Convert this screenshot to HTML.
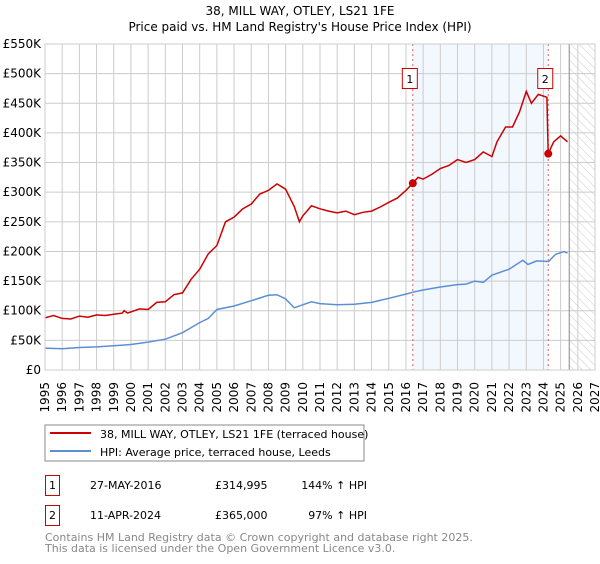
<!DOCTYPE html>
<html><head><meta charset="utf-8"><style>
body{margin:0;background:#fff;font-family:"DejaVu Sans","Liberation Sans",sans-serif;}
svg text{font-family:"DejaVu Sans","Liberation Sans",sans-serif;}
</style></head><body>
<svg id="c" width="600" height="560" xmlns="http://www.w3.org/2000/svg">
<defs><pattern id="hatch" width="6" height="6" patternUnits="userSpaceOnUse" patternTransform="rotate(-45)"><line x1="0" y1="0" x2="0" y2="6" stroke="#ccc" stroke-width="1"/></pattern></defs>
<text x="300" y="15" text-anchor="middle" font-size="12">38, MILL WAY, OTLEY, LS21 1FE</text>
<text x="300" y="31" text-anchor="middle" font-size="12">Price paid vs. HM Land Registry's House Price Index (HPI)</text>
<g id="plot"></g>
<rect x="45" y="425" width="319" height="36" fill="#fff" stroke="#888"/>
<line x1="50" y1="433" x2="91" y2="433" stroke="#cc0000" stroke-width="2"/>
<text x="100" y="438" font-size="11">38, MILL WAY, OTLEY, LS21 1FE (terraced house)</text>
<line x1="50" y1="451" x2="91" y2="451" stroke="#5b8fd4" stroke-width="2"/>
<text x="100" y="456" font-size="11">HPI: Average price, terraced house, Leeds</text>
<g>
<rect x="45.5" y="475.5" width="14" height="20" fill="#fff" stroke="#cc0000"/>
<text x="52.5" y="489" text-anchor="middle" font-size="11">1</text>
<text x="90" y="489" font-size="11">27-MAY-2016</text>
<text x="215" y="489" font-size="11">£314,995</text>
<text x="367" y="489" text-anchor="end" font-size="11">144% ↑ HPI</text>
</g>
<g>
<rect x="45.5" y="505.5" width="14" height="20" fill="#fff" stroke="#cc0000"/>
<text x="52.5" y="519" text-anchor="middle" font-size="11">2</text>
<text x="90" y="519" font-size="11">11-APR-2024</text>
<text x="215" y="519" font-size="11">£365,000</text>
<text x="367" y="519" text-anchor="end" font-size="11">97% ↑ HPI</text>
</g>
<text x="45" y="541" font-size="11" fill="#888">Contains HM Land Registry data © Crown copyright and database right 2025.</text>
<text x="45" y="552" font-size="11" fill="#888">This data is licensed under the Open Government Licence v3.0.</text>
</svg>
<script>
const yTicks=[0,50,100,150,200,250,300,350,400,450,500,550];
const yTickLabels=["£0","£50K","£100K","£150K","£200K","£250K","£300K","£350K","£400K","£450K","£500K","£550K"];
const years=[1995,1996,1997,1998,1999,2000,2001,2002,2003,2004,2005,2006,2007,2008,2009,2010,2011,2012,2013,2014,2015,2016,2017,2018,2019,2020,2021,2022,2023,2024,2025,2026,2027];
const redT=[1995,1995.5,1996,1996.5,1997,1997.5,1998,1998.5,1999,1999.5,1999.6,1999.8,2000,2000.5,2001,2001.5,2002,2002.5,2003,2003.5,2004,2004.5,2005,2005.5,2006,2006.5,2007,2007.5,2008,2008.5,2009,2009.5,2009.8,2010,2010.5,2011,2011.5,2012,2012.5,2013,2013.5,2014,2014.5,2015,2015.5,2016,2016.4,2016.7,2017,2017.5,2018,2018.5,2019,2019.5,2020,2020.5,2021,2021.3,2021.8,2022.2,2022.6,2023,2023.3,2023.7,2024.2,2024.28,2024.6,2025,2025.4];
const redV=[88,92,87,86,91,89,93,92,94,96,100,96,98,103,102,114,115,127,130,153,170,196,210,250,258,272,280,297,303,314,305,276,250,260,277,272,268,265,268,262,266,268,275,283,290,303,315,325,322,330,340,345,355,350,355,368,360,385,410,410,435,470,450,465,460,365,385,395,385];
const blueT=[1995,1996,1997,1998,1999,2000,2001,2002,2003,2004,2004.5,2005,2006,2007,2008,2008.5,2009,2009.5,2010,2010.5,2011,2012,2013,2014,2015,2016,2016.5,2017,2018,2019,2019.5,2020,2020.5,2021,2021.5,2022,2022.8,2023.1,2023.6,2024.3,2024.7,2025.2,2025.4];
const blueV=[37,36,38,39,41,43,47,52,63,80,87,102,108,117,126,127,120,105,110,115,112,110,111,114,121,128,132,135,140,144,145,150,148,160,165,170,185,178,184,183,195,200,197];
const sales=[{t:2016.4,v:315,label:"1"},{t:2024.28,v:365,label:"2"}];
const X0=45,X1=595,Y0=370,Y1=44,T0=1995,T1=2027,VMAX=550;
const xs=t=>X0+(t-T0)/(T1-T0)*(X1-X0);
const ys=v=>Y0-v/VMAX*(Y0-Y1);
const NS="http://www.w3.org/2000/svg";
const g=document.getElementById('plot');
function mk(tag,attrs,parent){const e=document.createElementNS(NS,tag);for(const k in attrs)e.setAttribute(k,attrs[k]);(parent||g).appendChild(e);return e;}
let e;
e=mk('rect',{x:xs(sales[0].t),y:Y1,width:xs(sales[1].t)-xs(sales[0].t),height:Y0-Y1,fill:'#eef3fd',opacity:0.7});


const hx=xs(2025.5);
e=mk('rect',{x:hx,y:Y1,width:X1-hx,height:Y0-Y1,fill:'url(#hatch)'});


yTicks.forEach((v,i)=>{
 e=mk('line',{x1:X0,x2:X1,y1:ys(v),y2:ys(v),stroke:'#ccc','stroke-width':1});
 
 
 e=mk('text',{x:X0-4,y:ys(v)+4,'text-anchor':'end','font-size':12});
 e.textContent=yTickLabels[i];
 
 
});
years.forEach(yr=>{
 const x=xs(yr);
 e=mk('line',{x1:x,x2:x,y1:Y1,y2:Y0,stroke:'#ccc','stroke-width':1});
 
 
 e=mk('text',{x:0,y:0,'text-anchor':'end','font-size':12,transform:`translate(${x+4},${Y0+12}) rotate(-90)`});
 e.textContent=yr;
 
 
});
e=mk('line',{x1:hx,x2:hx,y1:Y1,y2:Y0,stroke:'#888','stroke-width':1});


sales.forEach(s=>{
 e=mk('line',{x1:xs(s.t),x2:xs(s.t),y1:Y1,y2:Y0,stroke:'#e06060','stroke-width':1,'stroke-dasharray':'2,3'});
 
 
});
function path(T,V){return T.map((t,i)=>(i?'L':'M')+xs(t).toFixed(1)+','+ys(V[i]).toFixed(1)).join('');}
e=mk('path',{d:path(blueT,blueV),fill:'none',stroke:'#5b8fd4','stroke-width':1.5});


e=mk('path',{d:path(redT,redV),fill:'none',stroke:'#cc0000','stroke-width':1.5});


sales.forEach(s=>{
 e=mk('circle',{cx:xs(s.t),cy:ys(s.v),r:4,fill:'#cc0000'});
 
 
 const bx=xs(s.t)-3;
 e=mk('rect',{x:bx-7.5,y:68.5,width:15,height:20,fill:'#fff',stroke:'#cc0000'});
 
 
 e=mk('text',{x:bx,y:83,'text-anchor':'middle','font-size':11});
 e.textContent=s.label;
 
 
});
e=mk('rect',{x:X0,y:Y1,width:X1-X0,height:Y0-Y1,fill:'none',stroke:'#ccc'});


</script>
</body></html>
